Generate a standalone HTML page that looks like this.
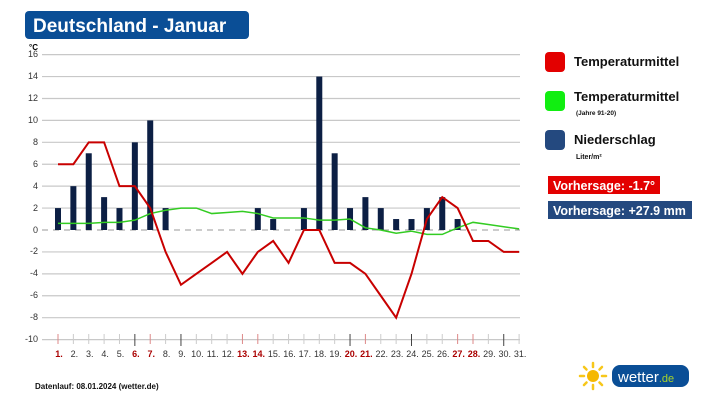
<!DOCTYPE html>
<html><head><meta charset="utf-8"><style>
body{margin:0;width:717px;height:403px;background:#fff;overflow:hidden;font-family:"Liberation Sans",sans-serif}
</style></head><body>
<svg id="s" width="717" height="403" xmlns="http://www.w3.org/2000/svg" font-family="Liberation Sans, sans-serif">
<rect x="25" y="11" width="224" height="28" rx="4" fill="#0a4e96"/>
<text x="33" y="32" font-size="19" font-weight="bold" fill="#fff">Deutschland - Januar</text>
<text x="29" y="50" font-size="8" font-weight="bold">°C</text>
<g id="grid"></g>
<g font-size="9" fill="#333" text-anchor="end">
<text x="38" y="57">16</text><text x="38" y="79">14</text><text x="38" y="101">12</text><text x="38" y="123">10</text>
<text x="38" y="145">8</text><text x="38" y="167">6</text><text x="38" y="189">4</text><text x="38" y="211">2</text>
<text x="38" y="233">0</text><text x="38" y="254">-2</text><text x="38" y="276">-4</text><text x="38" y="298">-6</text>
<text x="38" y="320">-8</text><text x="38" y="342">-10</text>
</g>
<g id="plot"></g>
<g id="xl" font-size="9" fill="#333" text-anchor="middle"></g>
<text x="35" y="389" font-size="8" font-weight="bold" fill="#111">Datenlauf: 08.01.2024 (wetter.de)</text>
<rect x="545" y="52" width="20" height="20" rx="4" fill="#e30000"/>
<text x="574" y="66" font-size="13" font-weight="bold" fill="#111">Temperaturmittel</text>
<rect x="545" y="91" width="20" height="20" rx="4" fill="#11ee11"/>
<text x="574" y="101" font-size="13" font-weight="bold" fill="#111">Temperaturmittel</text>
<text x="576" y="115" font-size="6.5" font-weight="bold" fill="#111">(Jahre 91-20)</text>
<rect x="545" y="130" width="20" height="20" rx="4" fill="#24497f"/>
<text x="574" y="144" font-size="13" font-weight="bold" fill="#111">Niederschlag</text>
<text x="576" y="159" font-size="7" font-weight="bold" fill="#111">Liter/m²</text>
<rect x="548" y="176" width="112" height="18" fill="#e30000"/>
<text x="553" y="190" font-size="12.5" font-weight="bold" fill="#fff">Vorhersage: -1.7°</text>
<rect x="548" y="201" width="144" height="18" fill="#24497f"/>
<text x="553" y="215" font-size="12.5" font-weight="bold" fill="#fff">Vorhersage: +27.9 mm</text>
<g transform="translate(593,376)" stroke="#f7c71a" stroke-width="2.5" stroke-linecap="round">
<line x1="0" y1="-13" x2="0" y2="-9"/><line x1="0" y1="13" x2="0" y2="9"/><line x1="-13" y1="0" x2="-9" y2="0"/><line x1="13" y1="0" x2="9" y2="0"/>
<line x1="-9" y1="-9" x2="-6.5" y2="-6.5"/><line x1="9" y1="9" x2="6.5" y2="6.5"/><line x1="-9" y1="9" x2="-6.5" y2="6.5"/><line x1="9" y1="-9" x2="6.5" y2="-6.5"/>
<circle r="6" fill="#f5b800" stroke="none"/></g>
<rect x="612" y="365" width="77" height="22" rx="8" fill="#0a4e96"/>
<text x="618" y="382" font-size="15" fill="#fff">wetter<tspan fill="#a8d42a" font-size="11">.de</tspan></text>
</svg>
<script>
const ns="http://www.w3.org/2000/svg";
const y=v=>230-10.96*v, x=d=>58+15.37*(d-1);
function el(p,t,a){const e=document.createElementNS(ns,t);for(const k in a)e.setAttribute(k,a[k]);document.getElementById(p).appendChild(e);return e;}
for(let v=-10;v<=16;v+=2){if(v!==0)el("grid","line",{x1:42,x2:520,y1:y(v),y2:y(v),stroke:"#c8c8c8","stroke-width":1.2});}
el("grid","line",{x1:42,x2:520,y1:230,y2:230,stroke:"#999","stroke-dasharray":"6,5"});
const red=[1,6,7,13,14,20,21,27,28];
for(let d=1;d<=31;d++){const r=red.includes(d);const big=[6,9,20,24,30].includes(d);
el("grid","line",{x1:x(d),x2:x(d),y1:334,y2:big?346:344,stroke:big?"#444":(r?"#d88":"#ccc"),"stroke-width":1});
const t=el("xl","text",{x:x(d)+1,y:357});t.textContent=d+".";if(r){t.setAttribute("fill","#a00");t.setAttribute("font-weight","bold");}}
const bars={1:2,2:4,3:7,4:3,5:2,6:8,7:10,8:2,14:2,15:1,17:2,18:14,19:7,20:2,21:3,22:2,23:1,24:1,25:2,26:3,27:1};
for(const d in bars)el("plot","rect",{x:x(+d)-3,y:y(bars[d]),width:6,height:230-y(bars[d]),fill:"#0c1f44"});
const g=[0.6,0.6,0.6,0.7,0.7,0.9,1.5,1.8,2,2,1.5,1.6,1.7,1.5,1.1,1.1,1.1,0.9,0.9,1.0,0.2,0,-0.3,-0.1,-0.4,-0.4,0.2,0.7,0.5,0.3,0.1];
el("plot","polyline",{points:g.map((v,i)=>x(i+1)+","+y(v)).join(" "),fill:"none",stroke:"#33cc22","stroke-width":1.5});
const rv=[6,6,8,8,4,4,2,-2,-5,-4,-3,-2,-4,-2,-1,-3,0,0,-3,-3,-4,-6,-8,-4,1,3,2,-1,-1,-2,-2];
el("plot","polyline",{points:rv.map((v,i)=>x(i+1)+","+y(v)).join(" "),fill:"none",stroke:"#c80000","stroke-width":2});
</script>
</body></html>
